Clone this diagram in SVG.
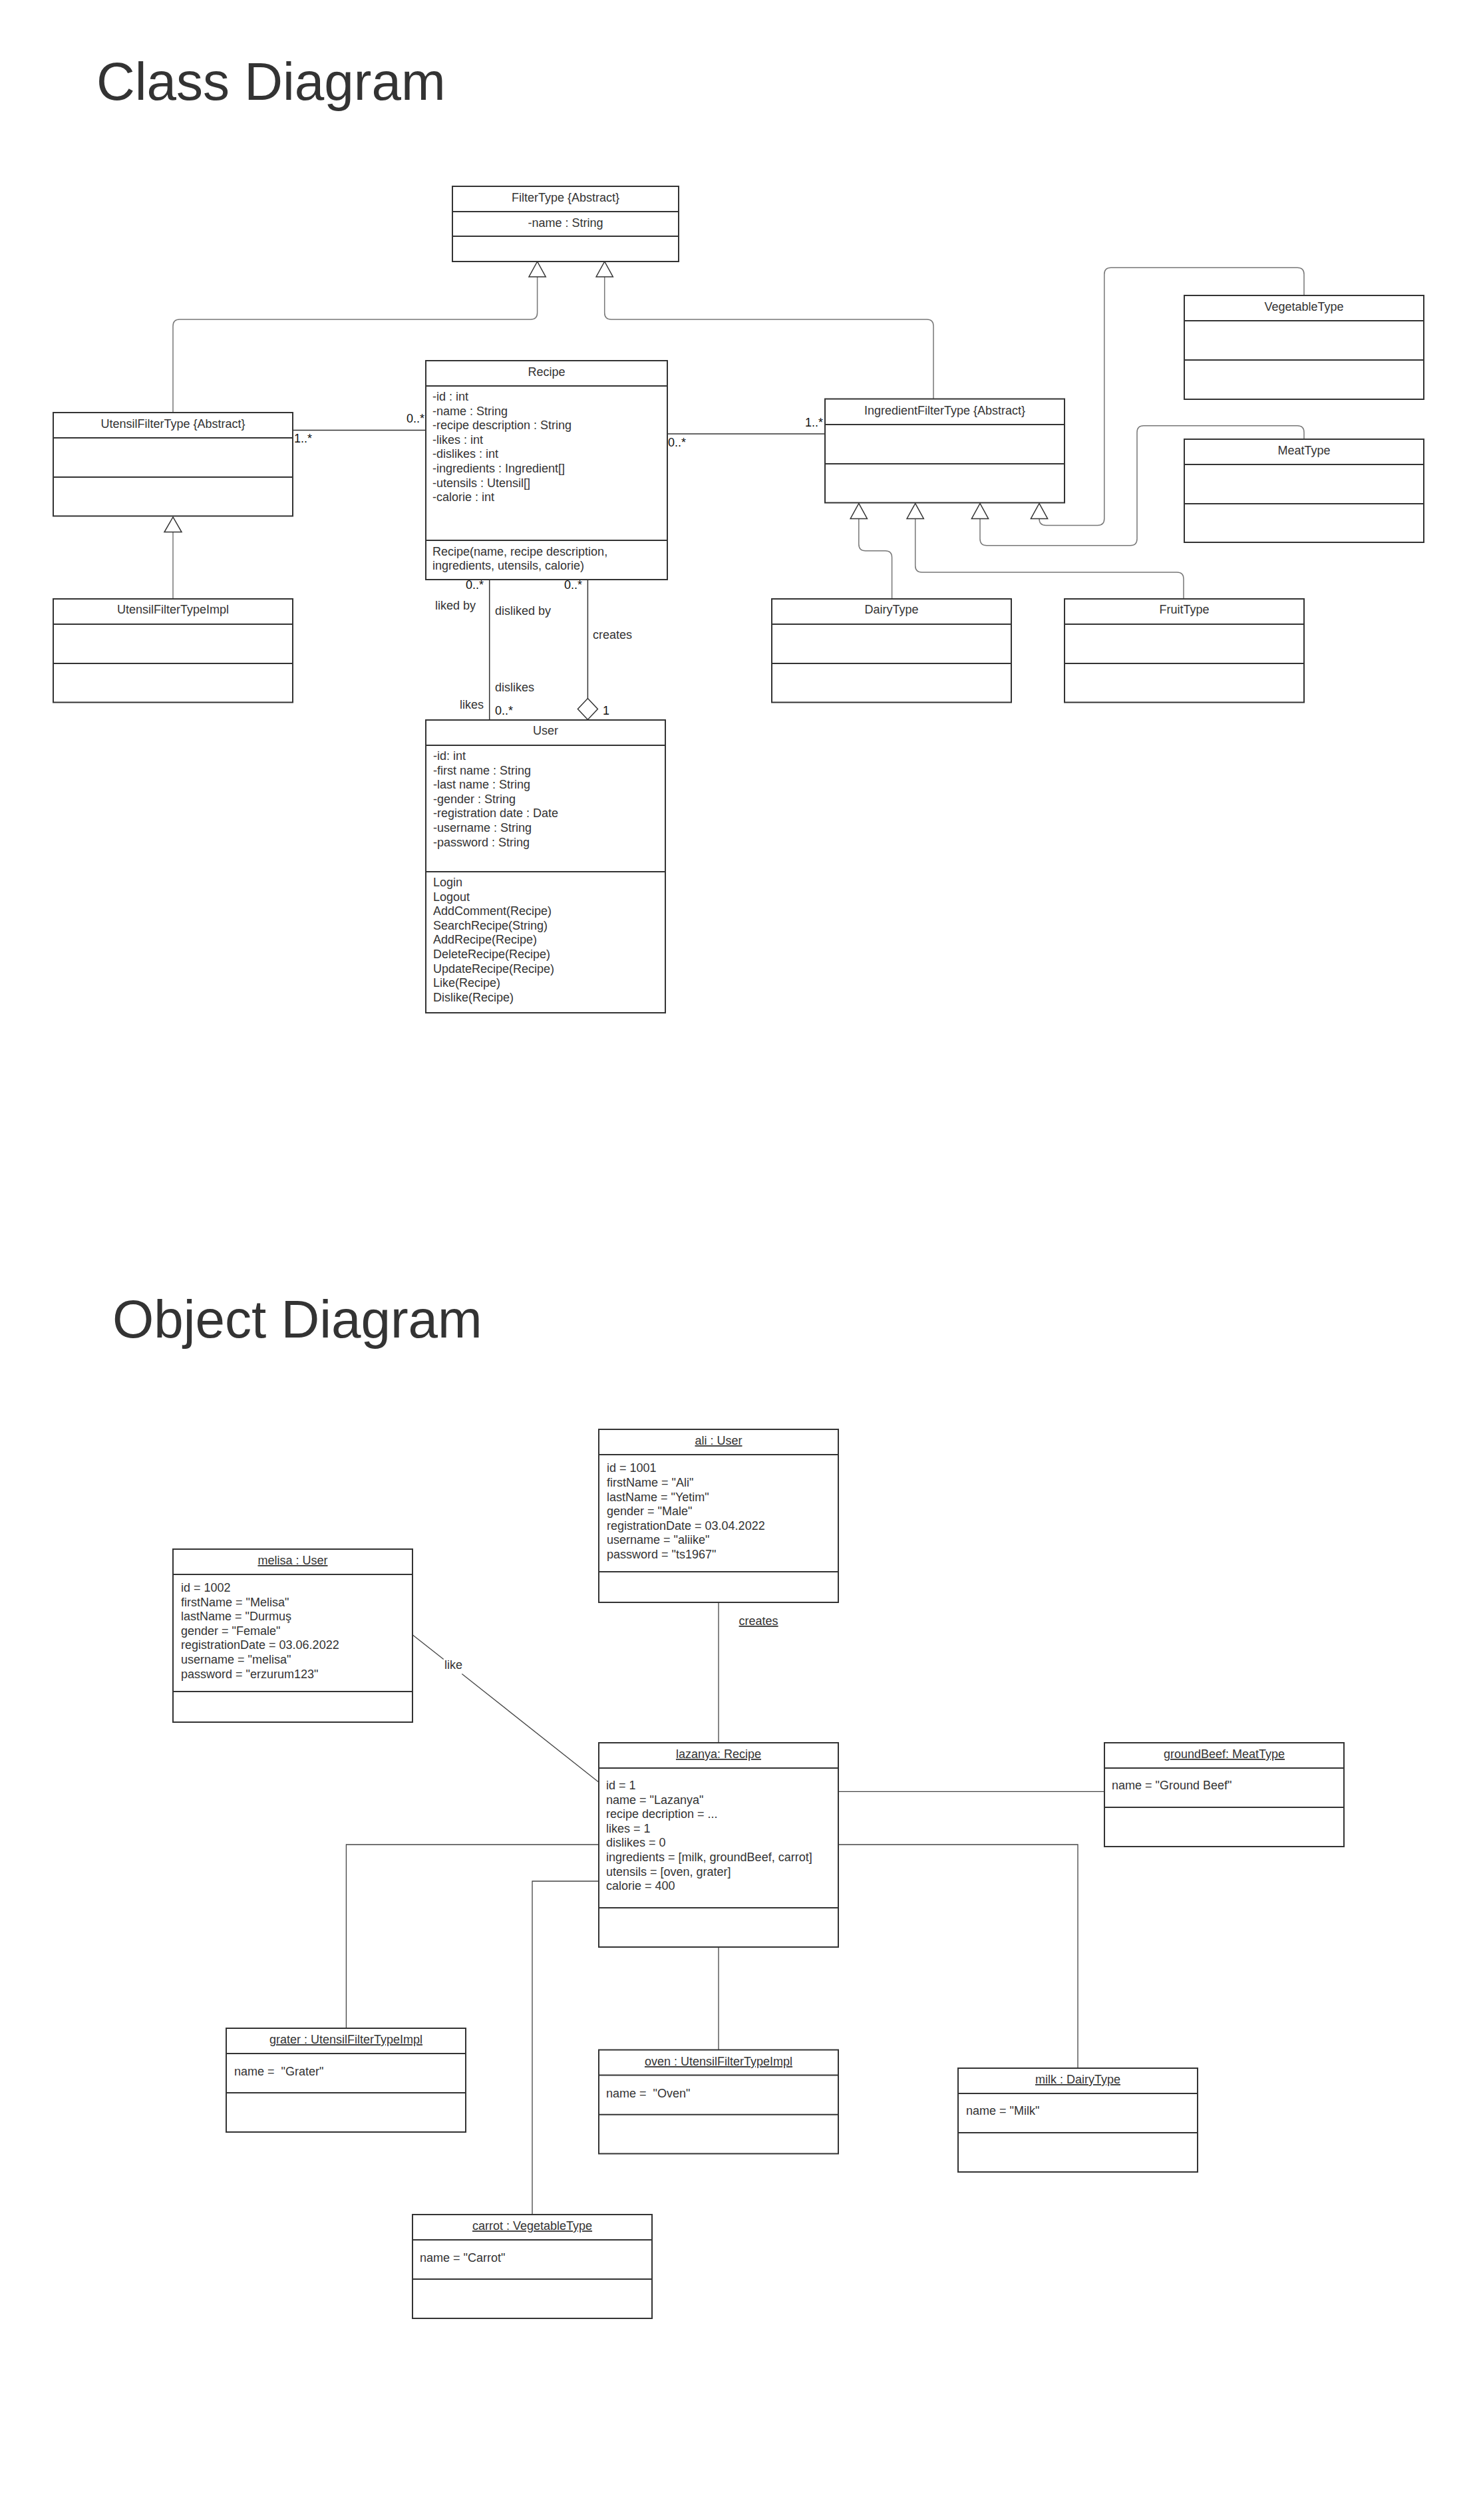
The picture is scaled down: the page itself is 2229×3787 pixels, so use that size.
<svg xmlns="http://www.w3.org/2000/svg" width="2229" height="3787" viewBox="0 0 2229 3787">
<style>
text { font-family: "Liberation Sans", Arial, sans-serif; font-size: 18px; fill: #333; }
.title { font-size: 80px; fill: #333; }
.c { text-anchor: middle; }
.r { text-anchor: end; }
.u { text-decoration: underline; }
.m { fill: #111; }
.box { fill: #fff; stroke: #333; stroke-width: 2; }
.dv { stroke: #333; stroke-width: 2; }
.gen { fill: none; stroke: #777; stroke-width: 1.5; }
.assoc { fill: none; stroke: #333; stroke-width: 1.5; }
.olink { fill: none; stroke: #444; stroke-width: 1.3; }
.head { fill: #fff; stroke: #333; stroke-width: 1.5; }
</style>
<rect x="0" y="0" width="2229" height="3787" fill="#fff"/>

<text class="title" x="145" y="150">Class Diagram</text>
<text class="title" x="169" y="2010">Object Diagram</text>

<g id="connectors">
  <!-- class diagram generalizations -->
  <path class="gen" d="M260 620 V490 Q260 480 270 480 H797.6 Q807.6 480 807.6 470 V416"/>
  <polygon class="head" points="807.6,393 795,416 820.2,416"/>
  <path class="gen" d="M1403 599.5 V490 Q1403 480 1393 480 H918.7 Q908.7 480 908.7 470 V416"/>
  <polygon class="head" points="908.7,393 896.1,416 921.3,416"/>
  <path class="gen" d="M260 900 V799.6"/>
  <polygon class="head" points="260,777 247,799.6 273,799.6"/>
  <path class="gen" d="M1340.6 900 V837.8 Q1340.6 827.8 1330.6 827.8 H1300.8 Q1290.8 827.8 1290.8 817.8 V779.4"/>
  <polygon class="head" points="1290.8,756.5 1278.2,779.4 1303.4,779.4"/>
  <path class="gen" d="M1779 900 V870 Q1779 860 1769 860 H1385.7 Q1375.7 860 1375.7 850 V779.4"/>
  <polygon class="head" points="1375.7,756.5 1363.1,779.4 1388.3,779.4"/>
  <path class="gen" d="M1960 660 V649.8 Q1960 639.8 1950 639.8 H1719 Q1709 639.8 1709 649.8 V809.7 Q1709 819.7 1699 819.7 H1483 Q1473 819.7 1473 809.7 V779.4"/>
  <polygon class="head" points="1473,756.5 1460.4,779.4 1485.6,779.4"/>
  <path class="gen" d="M1960 444 V412.3 Q1960 402.3 1950 402.3 H1669.8 Q1659.8 402.3 1659.8 412.3 V779.4 Q1659.8 789.4 1649.8 789.4 H1572 Q1562 789.4 1562 779.4"/>
  <polygon class="head" points="1562,756.5 1549.4,779.4 1574.6,779.4"/>
  <!-- class diagram associations -->
  <path class="assoc" d="M440 646.5 H640"/>
  <path class="assoc" d="M1003 652 H1240"/>
  <path class="assoc" d="M735.7 871 V1082"/>
  <path class="assoc" d="M883.4 871 V1049.5"/>
  <polygon class="head" points="883.4,1049.5 898.4,1065.5 883.4,1081.5 868.4,1065.5"/>
  <!-- class diagram labels -->
  <text class="m" x="442" y="665">1..*</text>
  <text class="m r" x="638" y="635">0..*</text>
  <text class="m" x="1004" y="670.5">0..*</text>
  <text class="m r" x="1237" y="641">1..*</text>
  <text class="m r" x="727" y="885">0..*</text>
  <text class="m r" x="875" y="885">0..*</text>
  <text x="654" y="916">liked by</text>
  <text x="744" y="924">disliked by</text>
  <text x="891" y="960">creates</text>
  <text x="744" y="1039">dislikes</text>
  <text class="r" x="727" y="1065">likes</text>
  <text class="m" x="744" y="1074">0..*</text>
  <text class="m" x="906" y="1074">1</text>

  <!-- object diagram links -->
  <path class="olink" d="M1080 2408 V2619"/>
  <text class="u" x="1110.6" y="2442">creates</text>
  <path class="olink" d="M620 2456.7 L666.7 2493.6"/>
  <path class="olink" d="M694.3 2515.5 L899.3 2677.7"/>
  <text x="668" y="2508">like</text>
  <path class="olink" d="M1260 2692.4 H1660"/>
  <path class="olink" d="M1260 2772 H1620 V3108"/>
  <path class="olink" d="M900 2772 H520.4 V3048"/>
  <path class="olink" d="M900 2827 H800 V3328"/>
  <path class="olink" d="M1080 2926 V3080.5"/>
</g>

<g id="FilterType">
  <rect class="box" x="680" y="280" width="340" height="113"/>
  <line class="dv" x1="680" y1="318" x2="1020" y2="318"/>
  <line class="dv" x1="680" y1="355" x2="1020" y2="355"/>
  <text class="c" x="850" y="303">FilterType {Abstract}</text>
  <text class="c" x="850" y="341">-name : String</text>
</g>

<g id="Recipe">
  <rect class="box" x="640" y="542" width="363" height="329"/>
  <line class="dv" x1="640" y1="580" x2="1003" y2="580"/>
  <line class="dv" x1="640" y1="812" x2="1003" y2="812"/>
  <text class="c" x="821.5" y="565">Recipe</text>
  <text x="650" y="602">-id : int</text>
  <text x="650" y="623.6">-name : String</text>
  <text x="650" y="645.2">-recipe description : String</text>
  <text x="650" y="666.8">-likes : int</text>
  <text x="650" y="688.4">-dislikes : int</text>
  <text x="650" y="710">-ingredients : Ingredient[]</text>
  <text x="650" y="731.6">-utensils : Utensil[]</text>
  <text x="650" y="753.2">-calorie : int</text>
  <text x="650" y="834.5">Recipe(name, recipe description,</text>
  <text x="650" y="856">ingredients, utensils, calorie)</text>
</g>

<g id="UtensilFilterType">
  <rect class="box" x="80" y="620" width="360" height="155.5"/>
  <line class="dv" x1="80" y1="658" x2="440" y2="658"/>
  <line class="dv" x1="80" y1="717" x2="440" y2="717"/>
  <text class="c" x="260" y="643">UtensilFilterType {Abstract}</text>
</g>

<g id="UtensilFilterTypeImpl">
  <rect class="box" x="80" y="900" width="360" height="155.5"/>
  <line class="dv" x1="80" y1="938" x2="440" y2="938"/>
  <line class="dv" x1="80" y1="997" x2="440" y2="997"/>
  <text class="c" x="260" y="922">UtensilFilterTypeImpl</text>
</g>

<g id="IngredientFilterType">
  <rect class="box" x="1240" y="599.5" width="360" height="156"/>
  <line class="dv" x1="1240" y1="638" x2="1600" y2="638"/>
  <line class="dv" x1="1240" y1="697" x2="1600" y2="697"/>
  <text class="c" x="1420" y="623">IngredientFilterType {Abstract}</text>
</g>

<g id="VegetableType">
  <rect class="box" x="1780" y="444" width="360" height="156"/>
  <line class="dv" x1="1780" y1="482" x2="2140" y2="482"/>
  <line class="dv" x1="1780" y1="541" x2="2140" y2="541"/>
  <text class="c" x="1960" y="466.5">VegetableType</text>
</g>

<g id="MeatType">
  <rect class="box" x="1780" y="660" width="360" height="155"/>
  <line class="dv" x1="1780" y1="698" x2="2140" y2="698"/>
  <line class="dv" x1="1780" y1="757" x2="2140" y2="757"/>
  <text class="c" x="1960" y="682.5">MeatType</text>
</g>

<g id="DairyType">
  <rect class="box" x="1160" y="900" width="360" height="155.5"/>
  <line class="dv" x1="1160" y1="938" x2="1520" y2="938"/>
  <line class="dv" x1="1160" y1="997" x2="1520" y2="997"/>
  <text class="c" x="1340" y="922">DairyType</text>
</g>

<g id="FruitType">
  <rect class="box" x="1600" y="900" width="360" height="155.5"/>
  <line class="dv" x1="1600" y1="938" x2="1960" y2="938"/>
  <line class="dv" x1="1600" y1="997" x2="1960" y2="997"/>
  <text class="c" x="1780" y="922">FruitType</text>
</g>

<g id="User">
  <rect class="box" x="640" y="1082" width="360" height="440"/>
  <line class="dv" x1="640" y1="1120" x2="1000" y2="1120"/>
  <line class="dv" x1="640" y1="1310" x2="1000" y2="1310"/>
  <text class="c" x="820" y="1104">User</text>
  <text x="651" y="1142">-id: int</text>
  <text x="651" y="1163.6">-first name : String</text>
  <text x="651" y="1185.2">-last name : String</text>
  <text x="651" y="1206.8">-gender : String</text>
  <text x="651" y="1228.4">-registration date : Date</text>
  <text x="651" y="1250">-username : String</text>
  <text x="651" y="1271.6">-password : String</text>
  <text x="651" y="1332">Login</text>
  <text x="651" y="1353.6">Logout</text>
  <text x="651" y="1375.2">AddComment(Recipe)</text>
  <text x="651" y="1396.8">SearchRecipe(String)</text>
  <text x="651" y="1418.4">AddRecipe(Recipe)</text>
  <text x="651" y="1440">DeleteRecipe(Recipe)</text>
  <text x="651" y="1461.6">UpdateRecipe(Recipe)</text>
  <text x="651" y="1483.2">Like(Recipe)</text>
  <text x="651" y="1504.8">Dislike(Recipe)</text>
</g>

<g id="ali">
  <rect class="box" x="900" y="2148" width="360" height="260"/>
  <line class="dv" x1="900" y1="2186" x2="1260" y2="2186"/>
  <line class="dv" x1="900" y1="2362" x2="1260" y2="2362"/>
  <text class="c u" x="1080" y="2171">ali : User</text>
  <text x="912" y="2212.4">id = 1001</text>
  <text x="912" y="2234">firstName = "Ali"</text>
  <text x="912" y="2255.6">lastName = "Yetim"</text>
  <text x="912" y="2277.2">gender = "Male"</text>
  <text x="912" y="2298.8">registrationDate = 03.04.2022</text>
  <text x="912" y="2320.4">username = "aliike"</text>
  <text x="912" y="2342">password = "ts1967"</text>
</g>

<g id="melisa">
  <rect class="box" x="260" y="2328" width="360" height="260"/>
  <line class="dv" x1="260" y1="2366" x2="620" y2="2366"/>
  <line class="dv" x1="260" y1="2542" x2="620" y2="2542"/>
  <text class="c u" x="440" y="2351">melisa : User</text>
  <text x="272" y="2392">id = 1002</text>
  <text x="272" y="2413.6">firstName = "Melisa"</text>
  <text x="272" y="2435.2">lastName = "Durmuş</text>
  <text x="272" y="2456.8">gender = "Female"</text>
  <text x="272" y="2478.4">registrationDate = 03.06.2022</text>
  <text x="272" y="2500">username = "melisa"</text>
  <text x="272" y="2521.6">password = "erzurum123"</text>
</g>

<g id="lazanya">
  <rect class="box" x="900" y="2619" width="360" height="307"/>
  <line class="dv" x1="900" y1="2657" x2="1260" y2="2657"/>
  <line class="dv" x1="900" y1="2867" x2="1260" y2="2867"/>
  <text class="c u" x="1080" y="2642">lazanya: Recipe</text>
  <text x="911" y="2689">id = 1</text>
  <text x="911" y="2710.6">name = "Lazanya"</text>
  <text x="911" y="2732.2">recipe decription = ...</text>
  <text x="911" y="2753.8">likes = 1</text>
  <text x="911" y="2775.4">dislikes = 0</text>
  <text x="911" y="2797">ingredients = [milk, groundBeef, carrot]</text>
  <text x="911" y="2818.6">utensils = [oven, grater]</text>
  <text x="911" y="2840.2">calorie = 400</text>
</g>

<g id="groundBeef">
  <rect class="box" x="1660" y="2619" width="360" height="156"/>
  <line class="dv" x1="1660" y1="2657" x2="2020" y2="2657"/>
  <line class="dv" x1="1660" y1="2716" x2="2020" y2="2716"/>
  <text class="c u" x="1840" y="2642">groundBeef: MeatType</text>
  <text x="1671" y="2689">name = "Ground Beef"</text>
</g>

<g id="grater">
  <rect class="box" x="340" y="3048" width="360" height="156"/>
  <line class="dv" x1="340" y1="3086" x2="700" y2="3086"/>
  <line class="dv" x1="340" y1="3145" x2="700" y2="3145"/>
  <text class="c u" x="520" y="3071">grater : UtensilFilterTypeImpl</text>
  <text x="352" y="3119" xml:space="preserve">name =  "Grater"</text>
</g>

<g id="oven">
  <rect class="box" x="900" y="3080.5" width="360" height="156"/>
  <line class="dv" x1="900" y1="3118.5" x2="1260" y2="3118.5"/>
  <line class="dv" x1="900" y1="3177.7" x2="1260" y2="3177.7"/>
  <text class="c u" x="1080" y="3104">oven : UtensilFilterTypeImpl</text>
  <text x="911" y="3151.5" xml:space="preserve">name =  "Oven"</text>
</g>

<g id="milk">
  <rect class="box" x="1440" y="3108" width="360" height="156"/>
  <line class="dv" x1="1440" y1="3146" x2="1800" y2="3146"/>
  <line class="dv" x1="1440" y1="3205" x2="1800" y2="3205"/>
  <text class="c u" x="1620" y="3131">milk : DairyType</text>
  <text x="1452" y="3178">name = "Milk"</text>
</g>

<g id="carrot">
  <rect class="box" x="620" y="3328" width="360" height="156"/>
  <line class="dv" x1="620" y1="3366" x2="980" y2="3366"/>
  <line class="dv" x1="620" y1="3425" x2="980" y2="3425"/>
  <text class="c u" x="800" y="3351">carrot : VegetableType</text>
  <text x="631" y="3399">name = "Carrot"</text>
</g>
</svg>
